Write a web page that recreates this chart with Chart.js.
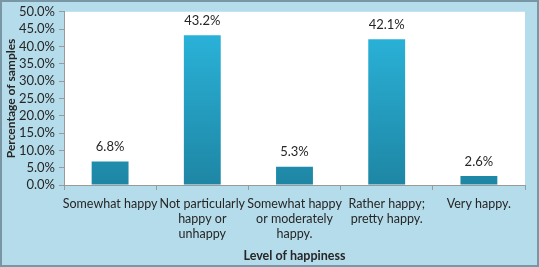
<!DOCTYPE html>
<html>
<head>
<meta charset="utf-8">
<script src="https://cdn.jsdelivr.net/npm/chart.js@4"></script>
<style>
  html, body { margin: 0; padding: 0; background: #b5dcea; }
  #wrap { position: relative; width: 539px; height: 267px; }
</style>
</head>
<body>
<div id="wrap"><canvas id="happyChart" width="539" height="267"></canvas></div>
<script>
const categories = [
    ['Somewhat happy'],
    ['Not particularly', 'happy or', 'unhappy'],
    ['Somewhat happy', 'or moderately', 'happy.'],
    ['Rather happy;', 'pretty happy.'],
    ['Very happy.']
];
const percentages = [6.8, 43.2, 5.3, 42.1, 2.6];
const yTicks = [0, 5, 10, 15, 20, 25, 30, 35, 40, 45, 50];

const FONT = 'Lato, "Open Sans", sans-serif';
const TEXT = '#262626';

// background, border and white plot area
const backdrop = {
    id: 'backdrop',
    beforeDraw(chart) {
        const c = chart.ctx;
        const a = chart.chartArea;
        c.save();
        c.fillStyle = '#b5dcea';
        c.fillRect(0, 0, chart.width, chart.height);
        c.strokeStyle = '#7896a3';
        c.lineWidth = 2;
        c.strokeRect(1, 1, chart.width - 2, chart.height - 2);
        c.fillStyle = '#ffffff';
        c.fillRect(a.left, a.top, a.right - a.left, a.bottom - a.top);
        c.restore();
    }
};

// value labels above each bar
const valueLabels = {
    id: 'valueLabels',
    afterDatasetsDraw(chart) {
        const c = chart.ctx;
        c.save();
        c.font = '13px ' + FONT;
        c.fillStyle = TEXT;
        c.textAlign = 'center';
        c.textBaseline = 'bottom';
        chart.getDatasetMeta(0).data.forEach((bar, i) => {
            c.fillText(percentages[i].toFixed(1) + '%', bar.x, bar.y - 8);
        });
        c.restore();
    }
};

const ctx = document.getElementById('happyChart').getContext('2d');

function barGradient(context) {
    const area = context.chart.chartArea;
    if (!area) return '#25a3c8';
    const g = context.chart.ctx.createLinearGradient(0, area.top, 0, area.bottom);
    g.addColorStop(0, '#2cb8e0');
    g.addColorStop(1, '#1e86a4');
    return g;
}

new Chart(ctx, {
    type: 'bar',
    data: {
        labels: categories,
        datasets: [{
            data: percentages,
            backgroundColor: barGradient,
            borderWidth: 0,
            barPercentage: 0.4,
            categoryPercentage: 1.0
        }]
    },
    options: {
        responsive: false,
        animation: false,
        layout: { padding: { top: 10, right: 14, left: 4, bottom: 0 } },
        plugins: {
            legend: { display: false },
            tooltip: { enabled: false }
        },
        scales: {
            y: {
                min: 0,
                max: 50,
                afterBuildTicks(scale) {
                    scale.ticks = yTicks.map(v => ({ value: v }));
                },
                afterFit(scale) { scale.width = 60; },
                border: { color: '#9a9a9a', width: 1 },
                grid: { drawOnChartArea: false, tickLength: 5, color: '#9a9a9a' },
                ticks: {
                    color: TEXT,
                    autoSkip: false,
                    font: { family: FONT, size: 13 },
                    padding: 4,
                    callback: v => v.toFixed(1) + '%'
                },
                title: {
                    display: true,
                    text: 'Percentage of samples',
                    color: TEXT,
                    font: { family: FONT, size: 12, weight: 'bold' },
                    padding: { top: 0, bottom: 0 }
                }
            },
            x: {
                afterFit(scale) { scale.height = 82; },
                border: { color: '#9a9a9a', width: 1 },
                grid: { drawOnChartArea: false, tickLength: 5, color: '#9a9a9a', offset: true },
                ticks: {
                    color: TEXT,
                    font: { family: FONT, size: 12.5, lineHeight: 1.2 },
                    maxRotation: 0,
                    autoSkip: false,
                    padding: 6
                },
                title: {
                    display: true,
                    text: 'Level of happiness',
                    color: TEXT,
                    font: { family: FONT, size: 12.5, weight: 'bold' },
                    padding: { top: 4, bottom: 4 }
                }
            }
        }
    },
    plugins: [backdrop, valueLabels]
});
</script>
</body>
</html>
